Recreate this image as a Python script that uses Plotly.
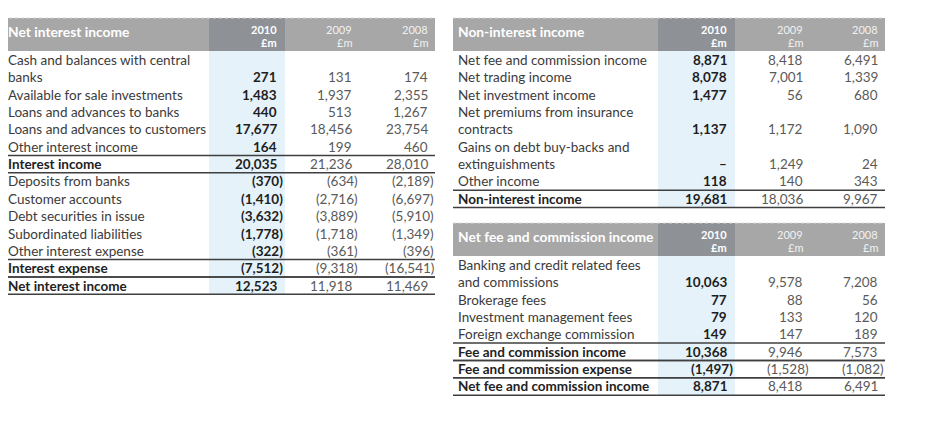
import plotly.graph_objects as go

# ---------------- data ----------------
years = ["2010", "2009", "2008"]
unit = "£m"

t1_title = "Net interest income"
t1_labels = ["Cash and balances with central<br>banks", "Available for sale investments",
             "Loans and advances to banks", "Loans and advances to customers",
             "Other interest income", "Interest income", "Deposits from banks",
             "Customer accounts", "Debt securities in issue", "Subordinated liabilities",
             "Other interest expense", "Interest expense", "Net interest income"]
t1_2010 = [271, 1483, 440, 17677, 164, 20035, -370, -1410, -3632, -1778, -322, -7512, 12523]
t1_2009 = [131, 1937, 513, 18456, 199, 21236, -634, -2716, -3889, -1718, -361, -9318, 11918]
t1_2008 = [174, 2355, 1267, 23754, 460, 28010, -2189, -6697, -5910, -1349, -396, -16541, 11469]
t1_bold = ["Interest income", "Interest expense", "Net interest income"]

t2_title = "Non-interest income"
t2_labels = ["Net fee and commission income", "Net trading income", "Net investment income",
             "Net premiums from insurance<br>contracts", "Gains on debt buy-backs and<br>extinguishments",
             "Other income", "Non-interest income"]
t2_2010 = [8871, 8078, 1477, 1137, None, 118, 19681]
t2_2009 = [8418, 7001, 56, 1172, 1249, 140, 18036]
t2_2008 = [6491, 1339, 680, 1090, 24, 343, 9967]
t2_bold = ["Non-interest income"]

t3_title = "Net fee and commission income"
t3_labels = ["Banking and credit related fees<br>and commissions", "Brokerage fees",
             "Investment management fees", "Foreign exchange commission",
             "Fee and commission income", "Fee and commission expense",
             "Net fee and commission income"]
t3_2010 = [10063, 77, 79, 149, 10368, -1497, 8871]
t3_2009 = [9578, 88, 133, 147, 9946, -1528, 8418]
t3_2008 = [7208, 56, 120, 189, 7573, -1082, 6491]
t3_bold = ["Fee and commission income", "Fee and commission expense", "Net fee and commission income"]

# ---------------- style ----------------
FONT = "Lato"
FS = 13.5
ROW_H = 17.35
HDR_BG = "#a7a7a7"
HDR_BG_HL = "#8e9297"
HL_BG = "#e5f2fa"
LBL_C = "#3b3b3b"
V10_C = "#1e1e1e"
VOLD_C = "#5a5a5a"
LINE_C = "#3f3f3f"
PAGE_OFF = 8  # browser body margin

fig = go.Figure()
shapes = []
ann = []


def fmt(v):
    if v is None:
        return "–"
    if v < 0:
        return "({:,})".format(-v)
    return "{:,}".format(v)


def text(x, y, s, anchor, size, color):
    ann.append(dict(x=x, y=y, text=s, xanchor=anchor, yanchor="middle", showarrow=False,
                    borderpad=0, borderwidth=0,
                    font=dict(family=FONT, size=size, color=color)))


def draw_table(x0, x1, y_hdr, title, labels, cols, bold, col_x, hl_x, rules):
    hdr_h = 33
    nlines = sum(1 + l.count("<br>") for l in labels)
    body_top = y_hdr + hdr_h
    first = body_top + 9
    body_bot = first + (nlines - 1) * ROW_H + 9
    shapes.append(dict(type="rect", xref="x", yref="y", x0=x0, x1=x1, y0=y_hdr, y1=body_top,
                       fillcolor=HDR_BG, line=dict(width=0), layer="below"))
    shapes.append(dict(type="rect", xref="x", yref="y", x0=hl_x[0], x1=hl_x[1], y0=y_hdr, y1=body_top,
                       fillcolor=HDR_BG_HL, line=dict(width=0), layer="below"))
    shapes.append(dict(type="rect", xref="x", yref="y", x0=hl_x[0], x1=hl_x[1], y0=body_top, y1=body_bot,
                       fillcolor=HL_BG, line=dict(width=0), layer="below"))
    shapes.append(dict(type="line", xref="x", yref="y", x0=x0, x1=x1, y0=y_hdr, y1=y_hdr,
                       line=dict(color="#d8d8d8", width=1, dash="dot")))
    text(x0 + 5, y_hdr + 13, "<b>" + title + "</b>", "left", 13.8, "white")
    for i, yr in enumerate(years):
        b = (i == 0)
        c = "white" if b else "#f2f2f2"
        text(col_x[i], y_hdr + 11, ("<b>%s</b>" % yr) if b else yr, "right", 11, c)
        text(col_x[i], y_hdr + 24, ("<b>%s</b>" % unit) if b else unit, "right", 11, c)
    line_idx = 0
    row_y = []
    for li, lab in enumerate(labels):
        parts = lab.split("<br>")
        n = len(parts)
        isb = lab in bold
        for k, p in enumerate(parts):
            y = first + (line_idx + k) * ROW_H
            text(x0 + 5, y, ("<b>%s</b>" % p) if isb else p, "left", FS, "#222" if isb else LBL_C)
        yv = first + (line_idx + n - 1) * ROW_H
        row_y.append((line_idx, n))
        for ci in range(3):
            v = cols[ci][li]
            s = fmt(v)
            xx = col_x[ci] + (6 if (v is not None and v < 0) else 0)
            if ci == 0:
                text(xx, yv, "<b>%s</b>" % s, "right", FS, V10_C)
            else:
                text(xx, yv, s, "right", FS, VOLD_C)
        line_idx += n
    for r in rules:
        li0, n = row_y[r]
        ytop = first + li0 * ROW_H - ROW_H / 2
        ybot = first + (li0 + n - 1) * ROW_H + ROW_H / 2
        for yy in (ytop, ybot):
            shapes.append(dict(type="line", xref="x", yref="y", x0=x0, x1=x1, y0=yy, y1=yy,
                               line=dict(color=LINE_C, width=1.5)))


draw_table(3, 435, 18, t1_title, t1_labels, [t1_2010, t1_2009, t1_2008], t1_bold,
           [277, 352, 428], (209, 285), [5, 11, 12])
draw_table(453, 885, 18, t2_title, t2_labels, [t2_2010, t2_2009, t2_2008], t2_bold,
           [727, 803, 878], (658, 735), [6])
draw_table(453, 885, 223, t3_title, t3_labels, [t3_2010, t3_2009, t3_2008], t3_bold,
           [727, 803, 878], (658, 735), [4, 5, 6])

fig.update_layout(
    width=925, height=436, margin=dict(l=0, r=0, t=0, b=0),
    paper_bgcolor="white", plot_bgcolor="white",
    xaxis=dict(range=[PAGE_OFF, 925 + PAGE_OFF], visible=False, fixedrange=True),
    yaxis=dict(range=[436 + PAGE_OFF, PAGE_OFF], visible=False, fixedrange=True),
    shapes=shapes, annotations=ann, showlegend=False,
)
fig.write_html("out.html")
